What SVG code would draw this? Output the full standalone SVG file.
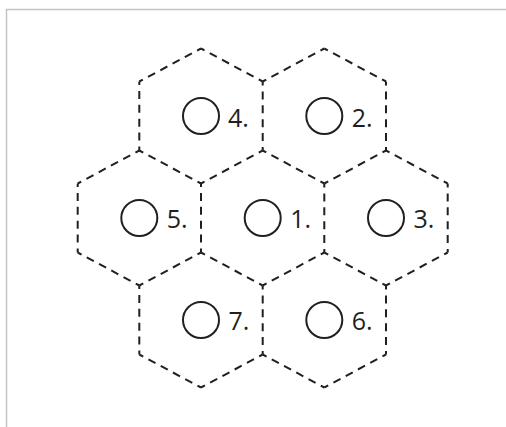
<svg xmlns="http://www.w3.org/2000/svg" width="506" height="427" viewBox="0 0 506 427">
<style>
.e{fill:none;stroke:#231f20;stroke-width:2;stroke-dasharray:8 5.9;stroke-dashoffset:4}
.c{fill:none;stroke:#231f20;stroke-width:2}
.t{font-family:"Open Sans","DejaVu Sans",sans-serif;font-size:25px;fill:#231f20}
.b{fill:none;stroke:#c4c4c4;stroke-width:1.5}
</style>
<rect width="506" height="427" fill="#fff"/>
<path class="b" d="M6.5,427 V9.5 H506"/>
<g id="cell-1">
<path class="e" d="M262.7,150.5 L324.3,183.5"/>
<path class="e" d="M324.3,183.5 L324.3,252.5"/>
<path class="e" d="M324.3,252.5 L262.7,285.5"/>
<path class="e" d="M262.7,285.5 L201,252.5"/>
<path class="e" d="M201,252.5 L201,183.5"/>
<path class="e" d="M201,183.5 L262.7,150.5"/>
<circle class="c" cx="262.7" cy="218" r="18"/>
<text class="t" x="290.2" y="228">1.</text>
</g>
<g id="cell-4">
<path class="e" d="M201,48.5 L262.7,81.5"/>
<path class="e" d="M262.7,81.5 L262.7,150.5"/>
<path class="e" d="M201,183.5 L139.3,150.5"/>
<path class="e" d="M139.3,150.5 L139.3,81.5"/>
<path class="e" d="M139.3,81.5 L201,48.5"/>
<circle class="c" cx="201" cy="116" r="18"/>
<text class="t" x="228" y="126.5">4.</text>
</g>
<g id="cell-2">
<path class="e" d="M324.3,48.5 L386,81.5"/>
<path class="e" d="M386,81.5 L386,150.5"/>
<path class="e" d="M386,150.5 L324.3,183.5"/>
<path class="e" d="M262.7,81.5 L324.3,48.5"/>
<circle class="c" cx="324.3" cy="116" r="18"/>
<text class="t" x="351.8" y="126.5">2.</text>
</g>
<g id="cell-5">
<path class="e" d="M201,252.5 L139.3,285.5"/>
<path class="e" d="M139.3,285.5 L77.7,252.5"/>
<path class="e" d="M77.7,252.5 L77.7,183.5"/>
<path class="e" d="M77.7,183.5 L139.3,150.5"/>
<circle class="c" cx="139.3" cy="218" r="18"/>
<text class="t" x="166.8" y="228">5.</text>
</g>
<g id="cell-3">
<path class="e" d="M386,150.5 L447.7,183.5"/>
<path class="e" d="M447.7,183.5 L447.7,252.5"/>
<path class="e" d="M447.7,252.5 L386,285.5"/>
<path class="e" d="M386,285.5 L324.3,252.5"/>
<circle class="c" cx="386" cy="218" r="18"/>
<text class="t" x="413.5" y="228">3.</text>
</g>
<g id="cell-7">
<path class="e" d="M262.7,285.5 L262.7,354.5"/>
<path class="e" d="M262.7,354.5 L201,387.5"/>
<path class="e" d="M201,387.5 L139.3,354.5"/>
<path class="e" d="M139.3,354.5 L139.3,285.5"/>
<circle class="c" cx="201" cy="320" r="18"/>
<text class="t" x="228.5" y="330">7.</text>
</g>
<g id="cell-6">
<path class="e" d="M386,285.5 L386,354.5"/>
<path class="e" d="M386,354.5 L324.3,387.5"/>
<path class="e" d="M324.3,387.5 L262.7,354.5"/>
<circle class="c" cx="324.3" cy="320" r="18"/>
<text class="t" x="351.8" y="330">6.</text>
</g>
</svg>
